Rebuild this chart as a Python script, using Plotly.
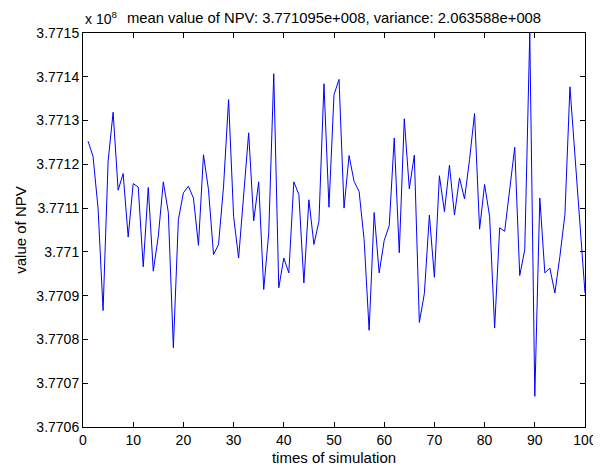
import plotly.graph_objects as go

# NPV of each simulation run, in units of 1e8
runs = list(range(1, 101))
npv = [
    3.771253, 3.771218, 3.771100, 3.770866, 3.771207, 3.771319, 3.771141, 3.771179, 3.771034, 3.771156,
    3.771148, 3.770966, 3.771147, 3.770956, 3.771036, 3.771160, 3.771090, 3.770781, 3.771074, 3.771135,
    3.771150, 3.771123, 3.771015, 3.771222, 3.771142, 3.770994, 3.771017, 3.771150, 3.771348, 3.771081,
    3.770986, 3.771135, 3.771272, 3.771071, 3.771160, 3.770914, 3.771043, 3.771407, 3.770918, 3.770986,
    3.770952, 3.771160, 3.771131, 3.770929, 3.771119, 3.771017, 3.771070, 3.771384, 3.771102, 3.771359,
    3.771394, 3.771100, 3.771220, 3.771161, 3.771138, 3.771028, 3.770821, 3.771090, 3.770952, 3.771026,
    3.771060, 3.771260, 3.770998, 3.771304, 3.771144, 3.771221, 3.770839, 3.770905, 3.771084, 3.770942,
    3.771174, 3.771092, 3.771198, 3.771084, 3.771169, 3.771121, 3.771211, 3.771316, 3.771052, 3.771154,
    3.771081, 3.770826, 3.771055, 3.771047, 3.771146, 3.771239, 3.770946, 3.771005, 3.771500, 3.770670,
    3.771123, 3.770952, 3.770963, 3.770906, 3.770990, 3.771085, 3.771377, 3.771226, 3.771078, 3.770906,
]

x_ticks = [0, 10, 20, 30, 40, 50, 60, 70, 80, 90, 100]
y_ticks = [3.7706, 3.7707, 3.7708, 3.7709, 3.7710, 3.7711, 3.7712, 3.7713, 3.7714, 3.7715]
y_tick_text = ["3.7706", "3.7707", "3.7708", "3.7709", "3.771", "3.7711", "3.7712", "3.7713", "3.7714", "3.7715"]

fig = go.Figure()
fig.add_trace(go.Scatter(x=runs, y=npv, mode="lines", line=dict(color="#0000ff", width=1)))

font_name = "Liberation Sans, Arial, sans-serif"
axis_style = dict(showline=True, linecolor="black", linewidth=1, mirror="allticks",
                  ticks="inside", ticklen=5, tickcolor="black", showgrid=False, zeroline=False,
                  automargin=False, tickfont=dict(family=font_name, size=14, color="black"))

# page body has an 8px margin, so the figure is 8px smaller than the window
fig.update_layout(
    width=593, height=466,
    margin=dict(l=75, r=16, t=25, b=47),
    paper_bgcolor="white", plot_bgcolor="white",
    showlegend=False,
    font=dict(family=font_name, size=14, color="black"),
    xaxis=dict(range=[0, 100], tickvals=x_ticks, **axis_style,
               title=dict(text="times of simulation", standoff=5, font=dict(size=15))),
    yaxis=dict(range=[3.7706, 3.7715], tickvals=y_ticks, ticktext=y_tick_text, **axis_style,
               title=dict(text="value of NPV", standoff=6, font=dict(size=15))),
    annotations=[
        dict(text="mean value of NPV: 3.771095e+008, variance: 2.063588e+008",
             xref="paper", yref="paper", x=0.5, y=1, yshift=5, xanchor="center", yanchor="bottom",
             showarrow=False, font=dict(size=14.8)),
        dict(text="x 10<sup>8</sup>", xref="paper", yref="paper", x=0, y=1, yshift=4,
             xanchor="left", yanchor="bottom", showarrow=False, font=dict(size=14)),
    ],
)

fig.write_html("out.html")
